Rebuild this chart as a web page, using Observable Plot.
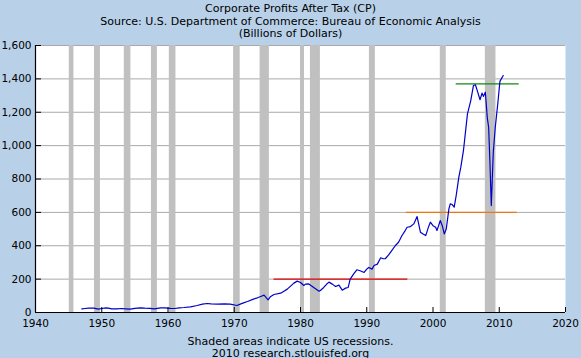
<!DOCTYPE html>
<html>
<head>
<meta charset="utf-8">
<script src="https://cdn.jsdelivr.net/npm/d3@7"></script>
<script src="https://cdn.jsdelivr.net/npm/@observablehq/plot@0.6"></script>
<style>
  html, body { margin: 0; padding: 0; background: #b8d1e9; }
</style>
</head>
<body>
<div id="chart"></div>
<script>
// Decimal year of each observation
const years = [
  1947.0, 1947.5, 1948.0, 1948.8, 1949.5, 1950.0, 1950.6, 1951.0, 1951.5, 1952.3,
  1953.0, 1953.6, 1954.3, 1955.0, 1955.8, 1956.5, 1957.3, 1957.9, 1958.9, 1959.5,
  1960.4, 1961.0, 1961.7, 1962.4, 1963.4, 1964.4, 1965.2, 1965.9, 1966.5, 1967.5,
  1968.5, 1969.4, 1970.4, 1971.0, 1971.4, 1972.0, 1972.9, 1973.5, 1974.0, 1974.5,
  1975.1, 1975.5, 1976.0, 1977.0, 1977.5, 1978.0, 1978.5, 1979.0, 1979.5, 1980.0,
  1980.5, 1980.75, 1981.2, 1982.0, 1982.8, 1983.0, 1983.5, 1984.0, 1984.3, 1984.8,
  1985.3, 1985.8, 1986.3, 1986.8, 1987.2, 1987.5, 1988.0, 1988.5, 1989.0, 1989.6,
  1990.0, 1990.3, 1990.8, 1991.1, 1991.6, 1992.1, 1992.5, 1992.8, 1993.3, 1993.8,
  1994.3, 1994.8, 1995.3, 1995.8, 1996.1, 1996.6, 1997.1, 1997.6, 1998.1, 1998.5,
  1998.9, 1999.3, 1999.6, 2000.0, 2000.4, 2000.6, 2001.1, 2001.4, 2001.7, 2002.0,
  2002.4, 2002.6, 2002.9, 2003.2, 2003.5, 2003.9, 2004.2, 2004.6, 2005.2, 2005.7,
  2006.1, 2006.4, 2006.6, 2007.1, 2007.4, 2007.6, 2007.9, 2008.2, 2008.4, 2008.6,
  2008.8, 2009.1, 2009.4, 2009.8, 2010.1, 2010.6
];
// Corporate profits after tax, billions of dollars
const profits = [
  22, 24, 26, 26, 20, 24, 28, 26, 22, 22,
  24, 22, 20, 25, 28, 26, 25, 22, 28, 28,
  25, 24, 28, 30, 34, 42, 50, 54, 52, 50,
  52, 50, 42, 52, 58, 66, 80, 88, 96, 104,
  76, 96, 108, 116, 128, 140, 158, 176, 188, 180,
  162, 170, 172, 150, 128, 132, 150, 172, 182, 170,
  156, 164, 134, 146, 150, 200, 230, 256, 250, 240,
  260, 270, 260, 282, 290, 328, 322, 322, 345, 372,
  400, 421, 460, 491, 511, 515, 531, 575, 481, 470,
  461, 510, 541, 520, 511, 491, 551, 520, 471, 500,
  621, 651, 647, 631, 701, 811, 871, 971, 1190, 1270,
  1360, 1365, 1340, 1275, 1315, 1295, 1320, 1165, 1110, 891,
  641, 960, 1110, 1260, 1385, 1420
];

// US recessions (shaded)
const recessionStart = [1945.1, 1948.9, 1953.4, 1957.5, 1960.2, 1969.9, 1973.9, 1980.0, 1981.5, 1990.4, 2001.1, 2007.9];
const recessionEnd   = [1945.8, 1949.8, 1954.4, 1958.4, 1961.2, 1970.9, 1975.3, 1980.6, 1983.0, 1991.3, 2002.0, 2009.5];

// Reference level lines
const refLevel = [200, 600, 1370];
const refStart = [1976.0, 1996.0, 2003.5];
const refEnd   = [1996.2, 2012.7, 2013.0];
const refColor = ["#dd0000", "#ee7711", "#118811"];

const yTicks = [0, 200, 400, 600, 800, 1000, 1200, 1400, 1600];
const xTicks = [1940, 1950, 1960, 1970, 1980, 1990, 2000, 2010, 2020];

const titleLines = [
  "Corporate Profits After Tax (CP)",
  "Source: U.S. Department of Commerce: Bureau of Economic Analysis",
  "(Billions of Dollars)"
];
const captionLines = [
  "Shaded areas indicate US recessions.",
  "2010 research.stlouisfed.org"
];

const series = years.map((y, i) => ({year: y, value: profits[i]}));
const recessions = recessionStart.map((s, i) => ({start: s, end: recessionEnd[i]}));
const refs = refLevel.map((v, i) => ({v, x1: refStart[i], x2: refEnd[i], c: refColor[i]}));

const font = "DejaVu Sans, Verdana, sans-serif";
const titleOffsets = [-37, -24.5, -12];
const captionOffsets = [29, 40.5];

const chart = Plot.plot({
  width: 581,
  height: 358,
  marginLeft: 35,
  marginRight: 16,
  marginTop: 45,
  marginBottom: 46,
  style: {background: "#b8d1e9", fontFamily: font, fontSize: "10.5px", color: "black", overflow: "visible"},
  x: {domain: [1940, 2020], axis: null},
  y: {domain: [0, 1600], axis: null},
  marks: [
    Plot.frame({fill: "white", stroke: null}),
    Plot.ruleY(yTicks.filter(d => d > 0), {stroke: "#a9a9a9", strokeWidth: 1}),
    Plot.rect(recessions, {x1: "start", x2: "end", y1: 0, y2: 1600, fill: "#c0c0c0"}),
    Plot.ruleY(refs, {y: "v", x1: "x1", x2: "x2", stroke: "c", strokeWidth: 1.2}),
    Plot.line(series, {x: "year", y: "value", stroke: "#0000cc", strokeWidth: 1.2}),
    Plot.ruleX([1940], {stroke: "black", strokeWidth: 1.2}),
    Plot.ruleY([0], {stroke: "black", strokeWidth: 1.2}),
    Plot.axisY(yTicks, {anchor: "left", tickSize: 6, dx: 6, tickPadding: 4, tickFormat: d3.format(","), fontSize: 10.5}),
    Plot.axisX(xTicks, {anchor: "bottom", tickSize: 5, dy: -5, tickPadding: 7, tickFormat: d3.format("d"), fontSize: 10.5}),
    ...titleLines.map((t, i) => Plot.text([t], {text: d => d, frameAnchor: "top", dx: -10, dy: titleOffsets[i], lineAnchor: "middle", fontSize: 11})),
    ...captionLines.map((t, i) => Plot.text([t], {text: d => d, frameAnchor: "bottom", dx: -10, dy: captionOffsets[i], lineAnchor: "middle", fontSize: 11}))
  ]
});

document.getElementById("chart").appendChild(chart);
</script>
</body>
</html>
